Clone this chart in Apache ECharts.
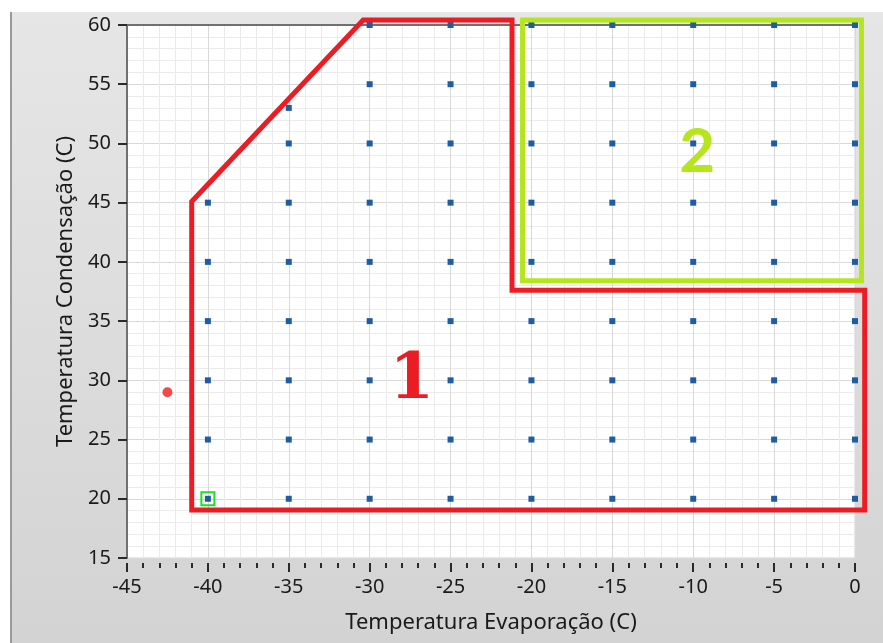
<!DOCTYPE html>
<html>
<head>
<meta charset="utf-8">
<script src="https://cdn.jsdelivr.net/npm/echarts@6/dist/echarts.min.js"></script>
<style>
html,body{margin:0;padding:0;background:#fff;}
#c{width:883px;height:643px;}
</style>
</head>
<body>
<div id="c"></div>
<script>
// ---- data ----
var condRows = [60, 55, 53, 50, 45, 40, 35, 30, 25, 20];
var evapRows = [
  [-30, -25, -20, -15, -10, -5, 0],
  [-30, -25, -20, -15, -10, -5, 0],
  [-35],
  [-35, -30, -25, -20, -15, -10, -5, 0],
  [-40, -35, -30, -25, -20, -15, -10, -5, 0],
  [-40, -35, -30, -25, -20, -15, -10, -5, 0],
  [-40, -35, -30, -25, -20, -15, -10, -5, 0],
  [-40, -35, -30, -25, -20, -15, -10, -5, 0],
  [-40, -35, -30, -25, -20, -15, -10, -5, 0],
  [-40, -35, -30, -25, -20, -15, -10, -5, 0]
];
var env1X = [-41, -41, -30.4, -21.2, -21.2, 0.6, 0.6, -41];
var env1Y = [19.05, 45.1, 60.42, 60.42, 37.6, 37.6, 19.05, 19.05];
var env2X = [-20.55, -20.55, 0.4, 0.4];
var env2Y = [38.4, 60.42, 60.42, 38.4];
var currentPt = [-42.5, 29];
var selectedPt = [-40, 20];
var annLabels = ['1', '2'];
var annX = [-27.4, -9.75];
var annY = [29.9, 49.3];
var xTicks = {min: -45, max: 0, step: 5};
var yTicks = {min: 15, max: 60, step: 5};
var xName = 'Temperatura Evaporação (C)';
var yName = 'Temperatura Condensação (C)';

// ---- build ----
var pts = [];
for (var i = 0; i < condRows.length; i++) {
  for (var j = 0; j < evapRows[i].length; j++) pts.push([evapRows[i][j], condRows[i]]);
}
var envelopes = [
  {xs: env1X, ys: env1Y, color: '#ec1c24'},
  {xs: env2X, ys: env2Y, color: '#b5e61d'}
];
function envelopeRenderer(params, api) {
  var env = envelopes[params.dataIndex];
  var p = env.xs.map(function (x, k) { return api.coord([x, env.ys[k]]); });
  return {
    type: 'polygon',
    shape: {points: p},
    style: {fill: 'none', stroke: env.color, lineWidth: 5, lineJoin: 'miter'}
  };
}

var chart = echarts.init(document.getElementById('c'), null, {renderer: 'canvas'});
var FONT = '"Noto Sans", "Open Sans", sans-serif';
chart.setOption({
  animation: false,
  backgroundColor: 'transparent',
  graphic: [
    {type: 'rect', z: -10, silent: true, shape: {x: 10, y: 12, width: 873, height: 631},
      style: {fill: new echarts.graphic.LinearGradient(0, 0, 0, 1, [
        {offset: 0, color: '#e6e6e6'}, {offset: 1, color: '#d3d3d3'}])}},
    {type: 'rect', z: -9, silent: true, shape: {x: 10, y: 12, width: 2, height: 631},
      style: {fill: '#9a9a9a'}}
  ],
  grid: {left: 127, right: 28, top: 25, bottom: 85, show: true,
    backgroundColor: '#ffffff', borderColor: '#d0d0d0', borderWidth: 1},
  xAxis: [{
    type: 'value', min: xTicks.min, max: xTicks.max, interval: xTicks.step,
    offset: 5,
    axisLine: {show: false},
    axisTick: {show: true, length: 9, lineStyle: {color: '#2a2a2a', width: 2}},
    minorTick: {show: true, splitNumber: 5, length: 5, lineStyle: {color: '#2a2a2a', width: 2}},
    axisLabel: {color: '#1a1a1a', fontSize: 20, fontFamily: FONT, margin: 14},
    splitLine: {show: true, lineStyle: {color: '#d9d9d9', width: 1}},
    minorSplitLine: {show: true, lineStyle: {color: '#ebebeb', width: 1}},
    name: xName, nameLocation: 'middle', nameGap: 49,
    nameTextStyle: {color: '#1a1a1a', fontSize: 22, fontFamily: FONT}
  }, {
    type: 'value', position: 'top', min: xTicks.min, max: xTicks.max,
    axisLine: {show: true, onZero: false, lineStyle: {color: '#707070', width: 2}},
    axisTick: {show: false}, axisLabel: {show: false}, splitLine: {show: false}
  }],
  yAxis: {
    type: 'value', min: yTicks.min, max: yTicks.max, interval: yTicks.step,
    axisLine: {show: true, onZero: false, lineStyle: {color: '#707070', width: 2}},
    axisTick: {show: true, length: 9, lineStyle: {color: '#2a2a2a', width: 2}},
    axisLabel: {color: '#1a1a1a', fontSize: 20, fontFamily: FONT, margin: 16},
    splitLine: {show: true, lineStyle: {color: '#d9d9d9', width: 1}},
    minorTick: {show: false, splitNumber: 5},
    minorSplitLine: {show: true, lineStyle: {color: '#ebebeb', width: 1}},
    name: yName, nameLocation: 'middle', nameGap: 46,
    nameTextStyle: {color: '#1a1a1a', fontSize: 22, fontFamily: FONT}
  },
  series: [
    {type: 'scatter', data: pts, symbol: 'rect', symbolSize: 6, z: 3,
      itemStyle: {color: '#1f5da3', opacity: 1}},
    {type: 'custom', data: [0, 1], clip: false, z: 4, silent: true,
      renderItem: envelopeRenderer},
    {type: 'scatter', data: [currentPt], symbol: 'circle', symbolSize: 10, z: 5,
      itemStyle: {color: '#f24a4a', opacity: 1}},
    {type: 'scatter', data: [selectedPt], symbol: 'rect', symbolSize: 13, z: 5,
      itemStyle: {color: 'rgba(0,0,0,0)', borderColor: '#22dd22', borderWidth: 2, opacity: 1}},
    {type: 'scatter', symbolSize: 0, z: 6, silent: true,
      itemStyle: {opacity: 1},
      data: [{value: [annX[0], annY[0]], label: {show: true, position: 'inside', formatter: annLabels[0],
        color: '#ec1c24', fontSize: 64, fontWeight: 'bold', fontFamily: '"DejaVu Serif", "Liberation Serif", serif'}},
        {value: [annX[1], annY[1]], label: {show: true, position: 'inside', formatter: annLabels[1],
        color: '#b5e61d', fontSize: 62, fontWeight: 'bold', fontFamily: 'Lato, "Open Sans", sans-serif'}}]}
  ]
});
</script>
</body>
</html>
